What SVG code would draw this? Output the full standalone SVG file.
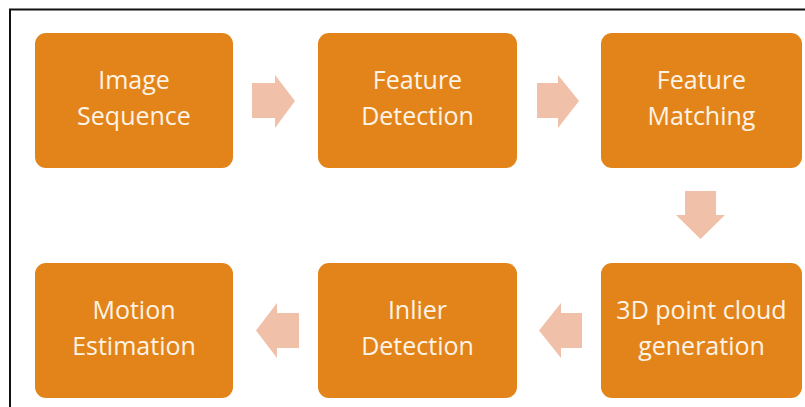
<svg xmlns="http://www.w3.org/2000/svg" width="805" height="407" viewBox="0 0 805 407">
<style>
.box{fill:#E3841A;}
.lbl{font-family:"Open Sans","Noto Sans",sans-serif;font-size:25px;fill:#FDF3E6;text-anchor:middle;}
.arr{fill:#F0C0A8;}
</style>
<rect width="805" height="407" fill="#FFFFFF"/>
<path d="M10,407 V9.5 H805" fill="none" stroke="#111" stroke-width="2"/>
<g id="n1"><rect class="box" x="35" y="33" width="198" height="135" rx="11"/><text class="lbl" x="134" y="89">Image</text><text class="lbl" x="134" y="125">Sequence</text></g>
<g id="n2"><rect class="box" x="318" y="33" width="199" height="135" rx="11"/><text class="lbl" x="417.5" y="89">Feature</text><text class="lbl" x="417.5" y="125">Detection</text></g>
<g id="n3"><rect class="box" x="601" y="33" width="201" height="135" rx="11"/><text class="lbl" x="701.5" y="89">Feature</text><text class="lbl" x="701.5" y="125">Matching</text></g>
<g id="n4"><rect class="box" x="601" y="263" width="201" height="135" rx="11"/><text class="lbl" x="701.5" y="319">3D point cloud</text><text class="lbl" x="701.5" y="355">generation</text></g>
<g id="n5"><rect class="box" x="318" y="263" width="199" height="135" rx="11"/><text class="lbl" x="417.5" y="319">Inlier</text><text class="lbl" x="417.5" y="355">Detection</text></g>
<g id="n6"><rect class="box" x="35" y="263" width="198" height="135" rx="11"/><text class="lbl" x="134" y="319">Motion</text><text class="lbl" x="134" y="355">Estimation</text></g>
<g id="connectors">
<path class="arr" d="M252,83 H275 V75 L295,101 L275,128 V118 H252 Z"/>
<path class="arr" d="M537,83 H558 V75 L579,101 L558,128 V118 H537 Z"/>
<path class="arr" d="M685,191 H716 V215 H725 L700.5,239 L676,215 H685 Z"/>
<path class="arr" d="M582,313 H561 V303 L539,330.5 L561,358 V348 H582 Z"/>
<path class="arr" d="M299,313 H277 V303 L256,330.5 L277,358 V348 H299 Z"/>
</g>
</svg>
